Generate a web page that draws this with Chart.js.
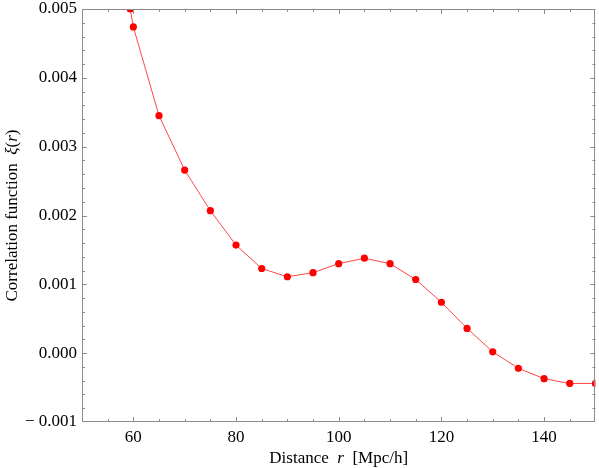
<!DOCTYPE html>
<html>
<head>
<meta charset="utf-8">
<script src="https://cdn.jsdelivr.net/npm/chart.js@4"></script>
<style>
  html, body { margin: 0; padding: 0; background: #fff; }
  #wrap { width: 599px; height: 468px; }
</style>
</head>
<body>
<div id="wrap"><canvas id="grafica" width="599" height="468"></canvas></div>
<script>
// distance r [Mpc/h] and correlation function xi(r)
let distancias = [59.4, 60, 65, 70, 75, 80, 85, 90, 95, 100, 105, 110, 115, 120, 125, 130, 135, 140, 145, 150];
let correlacion = [0.00500, 0.00474, 0.00345, 0.00266, 0.00207, 0.00157, 0.00123, 0.00111, 0.00117, 0.00130,
                   0.00138, 0.00130, 0.00107, 0.00074, 0.00036, 0.00002, -0.00022, -0.00037, -0.00044, -0.00044];
let ticksX = [60, 80, 100, 120, 140];
let ticksY = [-0.001, 0.000, 0.001, 0.002, 0.003, 0.004, 0.005];

let puntos = [];
for (let i = 0; i < distancias.length; i++) {
    puntos.push({ x: distancias[i], y: correlacion[i] });
}

const fuente = "Liberation Serif";
const gris = "#8c8c8c";

// frame, inside ticks (major + minor) and axis titles, Mathematica style
const marco = {
    id: "marco",
    afterDraw(chart) {
        let ctx = chart.ctx;
        let a = chart.chartArea;
        let sx = chart.scales.x;
        let sy = chart.scales.y;
        ctx.save();
        ctx.strokeStyle = gris;
        ctx.lineWidth = 1;
        ctx.strokeRect(Math.round(a.left) + 0.5, Math.round(a.top) + 0.5,
                       Math.round(a.right - a.left) - 1, Math.round(a.bottom - a.top) - 1);

        ctx.beginPath();
        for (let v = 55; v < 150; v += 5) {
            let largo = ticksX.includes(v) ? 5 : 3;
            let px = Math.round(sx.getPixelForValue(v)) + 0.5;
            ctx.moveTo(px, a.bottom);
            ctx.lineTo(px, a.bottom - largo);
            ctx.moveTo(px, a.top);
            ctx.lineTo(px, a.top + largo);
        }
        for (let k = -4; k < 30; k++) {
            let v = k * 0.0002;
            let largo = (k % 5 == 0) ? 5 : 3;
            let py = Math.round(sy.getPixelForValue(v)) + 0.5;
            ctx.moveTo(a.left, py);
            ctx.lineTo(a.left + largo, py);
            ctx.moveTo(a.right, py);
            ctx.lineTo(a.right - largo, py);
        }
        ctx.stroke();

        // x title
        ctx.fillStyle = "#000";
        ctx.textBaseline = "alphabetic";
        let partesX = [["Distance  ", "normal"], ["r", "italic"], ["  [Mpc/h]", "normal"]];
        dibujarTexto(ctx, partesX, (a.left + a.right) / 2, 463);

        // y title, rotated
        ctx.translate(17, (a.top + a.bottom) / 2);
        ctx.rotate(-Math.PI / 2);
        let partesY = [["Correlation function  ", "normal"], ["\u03BE", "italic"], ["(", "normal"], ["r", "italic"], [")", "normal"]];
        dibujarTexto(ctx, partesY, 0, 0);
        ctx.restore();
    }
};

function dibujarTexto(ctx, partes, cx, cy) {
    let total = 0;
    for (let p of partes) {
        ctx.font = p[1] + " 17px '" + fuente + "'";
        total += ctx.measureText(p[0]).width;
    }
    let x = cx - total / 2;
    for (let p of partes) {
        ctx.font = p[1] + " 17px '" + fuente + "'";
        ctx.fillText(p[0], x, cy);
        x += ctx.measureText(p[0]).width;
    }
}

new Chart(document.getElementById("grafica"), {
    type: "scatter",
    data: {
        datasets: [{
            data: puntos,
            showLine: true,
            borderColor: "rgba(255,40,40,0.85)",
            borderWidth: 1,
            backgroundColor: "#ff0000",
            pointBackgroundColor: "#ff0000",
            pointBorderWidth: 0,
            pointRadius: 3.6,
            pointHoverRadius: 3.6,
            tension: 0
        }]
    },
    options: {
        responsive: false,
        maintainAspectRatio: false,
        animation: false,
        events: [],
        layout: { padding: { top: 9, right: 1, left: 0, bottom: 0 } },
        plugins: {
            legend: { display: false },
            tooltip: { enabled: false }
        },
        scales: {
            x: {
                type: "linear",
                min: 50,
                max: 150,
                afterBuildTicks: s => { s.ticks = ticksX.map(v => ({ value: v })); },
                afterFit: s => { s.height = 46; s.paddingLeft = 0; s.paddingRight = 0; },
                grid: { display: false, drawTicks: false },
                border: { display: false },
                ticks: {
                    padding: 5,
                    color: "#000",
                    font: { family: fuente, size: 17 },
                    callback: v => String(v)
                }
            },
            y: {
                type: "linear",
                min: -0.001,
                max: 0.005,
                afterBuildTicks: s => { s.ticks = ticksY.map(v => ({ value: v })); },
                afterFit: s => { s.width = 82; s.paddingTop = 0; s.paddingBottom = 0; },
                grid: { display: false, drawTicks: false },
                border: { display: false },
                ticks: {
                    padding: 5,
                    color: "#000",
                    font: { family: fuente, size: 17 },
                    callback: v => (v < 0 ? "\u2212 " : "") + Math.abs(v).toFixed(3)
                }
            }
        }
    },
    plugins: [marco]
});
</script>
</body>
</html>
